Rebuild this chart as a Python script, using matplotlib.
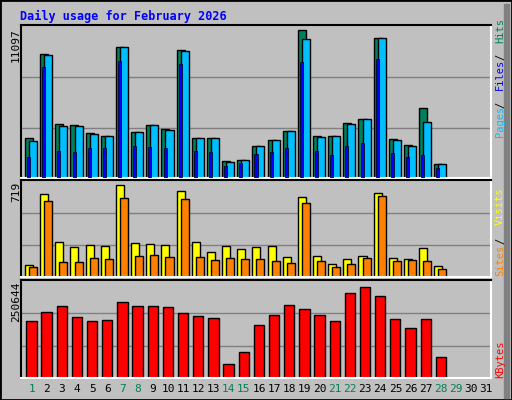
import numpy as np
import matplotlib.pyplot as plt
from matplotlib.patches import Rectangle

days = list(range(1, 32))
weekend = [1, 7, 8, 14, 15, 21, 22, 28, 29]

hits = [2940, 9110, 3970, 3900, 3310, 3090, 9630, 3380, 3900, 3600, 9410, 2940, 2940, 1250,
        1320, 2350, 2790, 3450, 10870, 3090, 3090, 4040, 4340, 10290, 2870, 2430, 5140, 1030]
files = [2720, 9040, 3820, 3820, 3230, 3090, 9630, 3380, 3900, 3530, 9330, 2940, 2940, 1180,
         1320, 2350, 2790, 3450, 10220, 3010, 3090, 3970, 4340, 10290, 2790, 2350, 4120, 1030]
pages = [1540, 8160, 1980, 1910, 2200, 2200, 8600, 2350, 2280, 2200, 8380, 1980, 1910, 880,
         1100, 1760, 1910, 2200, 8530, 1980, 1690, 2350, 2570, 8750, 1840, 1540, 1690, 735]
visits = [94, 649, 274, 235, 250, 242, 719, 266, 258, 250, 672, 274, 196, 242,
          219, 235, 242, 156, 626, 164, 102, 141, 164, 657, 149, 141, 227, 86]
sites = [78, 594, 117, 117, 149, 141, 618, 164, 172, 156, 610, 156, 133, 149,
         141, 141, 125, 109, 579, 125, 78, 102, 149, 634, 125, 133, 125, 63]
kbytes = [157000, 181800, 198300, 168000, 157000, 159700, 209300, 198300, 198300, 195500,
          179000, 170700, 165200, 38600, 71600, 146000, 173500, 201000, 190000, 173500,
          157000, 234100, 250644, 225800, 162500, 137700, 162500, 57800]

W, H = 512, 400
BG = '#C0C0C0'
GREEN = '#00805C'
mono = 'DejaVu Sans Mono'

fig = plt.figure(figsize=(W / 100, H / 100), dpi=100, facecolor=BG)


def px_axes(x0, y0, x1, y1):
    ax = fig.add_axes([x0 / W, 1 - y1 / H, (x1 - x0) / W, (y1 - y0) / H])
    ax.set_facecolor(BG)
    ax.set_xticks([])
    ax.set_yticks([])
    ax.set_xlim(0, 31)
    for s in ['left', 'top']:
        ax.spines[s].set_color('black')
    for s in ['right', 'bottom']:
        ax.spines[s].set_color('white')
    for s in ax.spines.values():
        s.set_linewidth(1.5)
    return ax


def grid(ax, top):
    ax.set_ylim(0, top)
    for f in (1 / 3, 2 / 3):
        ax.axhline(top * f * 0.99, color='#808080', lw=1, zorder=0)


def bars(ax, vals, x0, x1, color, lw=1, z=2):
    n = len(vals)
    x = np.arange(n) + x0
    ax.bar(x, vals, width=x1 - x0, align='edge', color=color, edgecolor='black', lw=lw, zorder=z)


# outer frame
fig.patches.append(Rectangle((0, 0), 1, 1, transform=fig.transFigure, fill=False,
                             edgecolor='black', lw=2))
fig.patches.append(Rectangle((0.985, 0.005), 0.01, 0.985, transform=fig.transFigure,
                             color='#808080'))

fig.text(20 / W, 1 - 16 / H, 'Daily usage for February 2026', color='#0000FF',
         family=mono, weight='bold', fontsize=8.5, va='center')

# top panel
ax1 = px_axes(21, 25, 491, 178)
grid(ax1, 11245)
bars(ax1, hits, 0.26, 0.79, GREEN)
bars(ax1, files, 0.53, 1.06, '#00BFFF')
bars(ax1, pages, 0.40, 0.60, '#0000FF', lw=0.5, z=3)

# middle panel
ax2 = px_axes(21, 180, 491, 277)
grid(ax2, 758)
bars(ax2, visits, 0.26, 0.79, '#FFFF00')
bars(ax2, sites, 0.53, 1.06, '#FF8000')

# bottom panel
ax3 = px_axes(21, 280, 491, 378)
grid(ax3, 269900)
bars(ax3, kbytes, 0.35, 1.03, '#FF0000')

# max labels on the left
for y, t in [(28, '11097'), (182, '719'), (282, '250644')]:
    fig.text(16 / W, 1 - y / H, t, rotation=90, family=mono, fontsize=8,
             ha='center', va='top')


def vlabel(y_bottom, parts, step=6.9):
    y = y_bottom
    for t, c in parts:
        fig.text(500 / W, 1 - y / H, t.strip(), rotation=90, family=mono, fontsize=7.5,
                 color=c, ha='center', va='bottom')
        y -= step * len(t)


vlabel(137, [('Pages', '#00BFFF'), (' / ', 'black'), ('Files', '#0000FF'),
             (' / ', 'black'), ('Hits', GREEN)], step=5.9)
vlabel(276, [('Sites', '#FF8000'), (' / ', 'black'), ('Visits', '#FFFF00')], step=6.4)
vlabel(378, [('KBytes', '#FF0000')])

# day labels
for d in days:
    xc = 21 + (d - 1) * 470 / 31 + 0.7 * 470 / 31
    fig.text(xc / W, 1 - 389 / H, str(d), family=mono, fontsize=8, ha='center',
             va='center', color=GREEN if d in weekend else 'black')

fig.savefig('out.png', dpi=100, facecolor=BG)
